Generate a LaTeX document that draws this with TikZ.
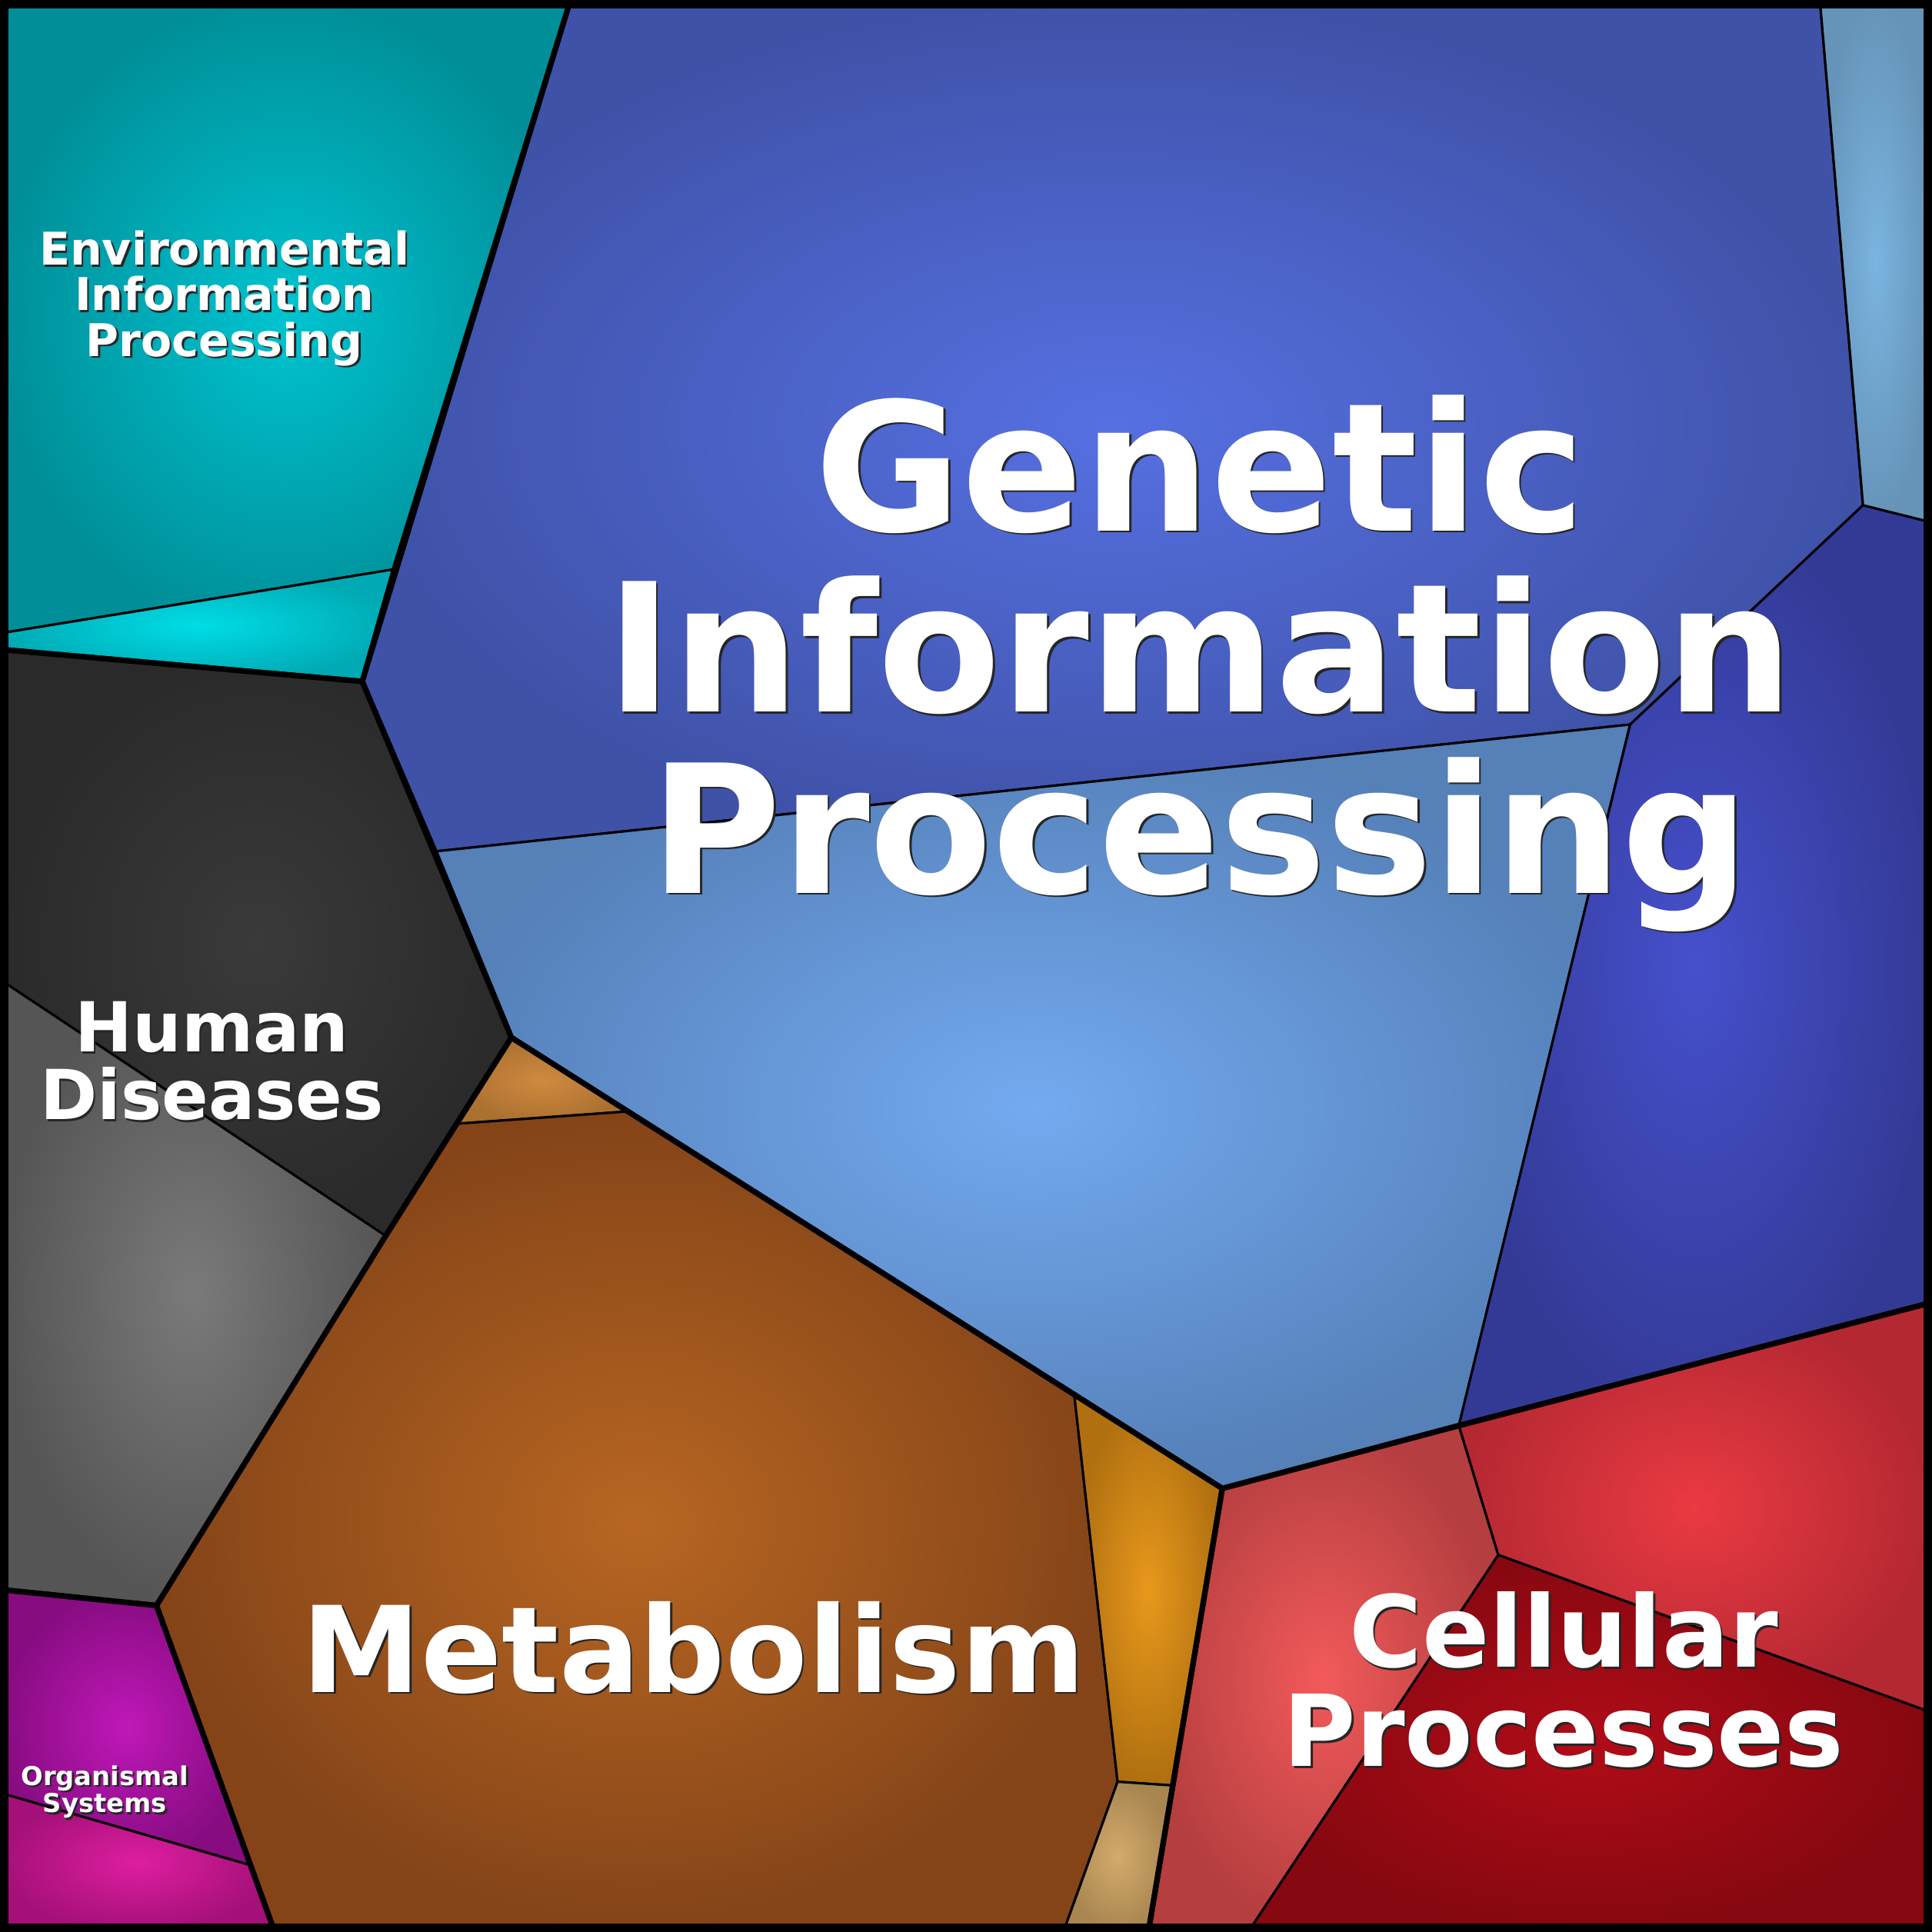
\documentclass[tikz,border=0pt]{standalone}
\usepackage{fontspec}
\setmainfont{DejaVu Sans}
\usetikzlibrary{calc}

% cell colours (inner / outer of the radial shading)
\definecolor{envAin}{HTML}{00C4D0}\definecolor{envAout}{HTML}{008F99}
\definecolor{envBin}{HTML}{00DDE6}\definecolor{envBout}{HTML}{00AAB4}
\definecolor{genAin}{HTML}{5670E2}\definecolor{genAout}{HTML}{3F52A8}
\definecolor{genBin}{HTML}{74AAF0}\definecolor{genBout}{HTML}{5580B8}
\definecolor{genCin}{HTML}{4650CC}\definecolor{genCout}{HTML}{333A96}
\definecolor{genDin}{HTML}{7AB4E0}\definecolor{genDout}{HTML}{6694B8}
\definecolor{humAin}{HTML}{3A3A3A}\definecolor{humAout}{HTML}{2A2A2A}
\definecolor{humBin}{HTML}{7A7A7A}\definecolor{humBout}{HTML}{555555}
\definecolor{metAin}{HTML}{B86622}\definecolor{metAout}{HTML}{844418}
\definecolor{metBin}{HTML}{D08A40}\definecolor{metBout}{HTML}{AA7030}
\definecolor{metCin}{HTML}{E8981C}\definecolor{metCout}{HTML}{B07010}
\definecolor{metDin}{HTML}{D4AA6C}\definecolor{metDout}{HTML}{A88650}
\definecolor{celAin}{HTML}{F25A5A}\definecolor{celAout}{HTML}{B53E40}
\definecolor{celBin}{HTML}{EA3A42}\definecolor{celBout}{HTML}{B42832}
\definecolor{celCin}{HTML}{B00C18}\definecolor{celCout}{HTML}{860810}
\definecolor{orgAin}{HTML}{C018B8}\definecolor{orgAout}{HTML}{860C80}
\definecolor{orgBin}{HTML}{DE1EA0}\definecolor{orgBout}{HTML}{A41078}

% white text with a thin dark shadow
\newcommand\shad[1]{\leavevmode\rlap{\kern0.45pt\raisebox{-0.45pt}{\color{black!85}#1}}#1}

\begin{document}
\begin{tikzpicture}[x=0.01cm,y=-0.01cm,
    cell/.style 2 args={draw=black,line width=0.55pt,line join=round,inner color=#1,outer color=#2},
    group/.style={draw=black,line width=1.25pt,line join=round},
    lbl/.style={text=white,font=\bfseries,align=center,inner sep=0pt}]
\useasboundingbox (0,0) rectangle (1568,1568);

% vertices
\coordinate (A) at (463,0);
\coordinate (B) at (320,462);
\coordinate (C) at (294,553);
\coordinate (D) at (0,514);
\coordinate (E) at (0,527);
\coordinate (F) at (1477,0);
\coordinate (G) at (1512,410);
\coordinate (H) at (1568,424);
\coordinate (I) at (1323,588);
\coordinate (J) at (353,691);
\coordinate (K) at (415,842);
\coordinate (L) at (992,1208);
\coordinate (M) at (1184,1157);
\coordinate (N) at (1568,1057);
\coordinate (O) at (0,795);
\coordinate (P) at (313,1003);
\coordinate (Q) at (127,1303);
\coordinate (R) at (0,1290);
\coordinate (S) at (510,902);
\coordinate (T) at (371,912);
\coordinate (U) at (872,1133);
\coordinate (V) at (907,1446);
\coordinate (W) at (951,1449);
\coordinate (X) at (932,1568);
\coordinate (Y) at (863,1568);
\coordinate (Z) at (223,1568);
\coordinate (Os) at (204,1514);
\coordinate (Ot) at (0,1455);
\coordinate (Ca) at (1216,1262);
\coordinate (Cb) at (1568,1390);
\coordinate (Cc) at (1013,1568);

% environmental information processing
\path[cell={envAin}{envAout}] (0,0) -- (A) -- (B) -- (D) -- cycle;
\path[cell={envBin}{envBout}] (D) -- (B) -- (C) -- (E) -- cycle;
% genetic information processing
\path[cell={genAin}{genAout}] (A) -- (F) -- (G) -- (I) -- (J) -- (C) -- (B) -- cycle;
\path[cell={genBin}{genBout}] (J) -- (I) -- (M) -- (L) -- (K) -- cycle;
\path[cell={genCin}{genCout}] (G) -- (H) -- (N) -- (M) -- (I) -- cycle;
\path[cell={genDin}{genDout}] (F) -- (1568,0) -- (H) -- (G) -- cycle;
% human diseases
\path[cell={humAin}{humAout}] (E) -- (C) -- (J) -- (K) -- (T) -- (P) -- (O) -- cycle;
\path[cell={humBin}{humBout}] (O) -- (P) -- (Q) -- (R) -- cycle;
% metabolism
\path[cell={metBin}{metBout}] (K) -- (S) -- (T) -- cycle;
\path[cell={metAin}{metAout}] (T) -- (S) -- (U) -- (V) -- (Y) -- (Z) -- (Q) -- (P) -- cycle;
\path[cell={metCin}{metCout}] (U) -- (L) -- (W) -- (V) -- cycle;
\path[cell={metDin}{metDout}] (V) -- (W) -- (X) -- (Y) -- cycle;
% cellular processes
\path[cell={celAin}{celAout}] (L) -- (M) -- (Ca) -- (Cc) -- (X) -- (W) -- cycle;
\path[cell={celBin}{celBout}] (M) -- (N) -- (Cb) -- (Ca) -- cycle;
\path[cell={celCin}{celCout}] (Ca) -- (Cb) -- (1568,1568) -- (Cc) -- cycle;
% organismal systems
\path[cell={orgAin}{orgAout}] (R) -- (Q) -- (Os) -- (Ot) -- cycle;
\path[cell={orgBin}{orgBout}] (Ot) -- (Os) -- (Z) -- (0,1568) -- cycle;

% category outlines
\draw[group] (0,0) -- (A) -- (B) -- (C) -- (E) -- cycle;
\draw[group] (A) -- (1568,0) -- (N) -- (M) -- (L) -- (K) -- (J) -- (C) -- cycle;
\draw[group] (E) -- (C) -- (K) -- (P) -- (Q) -- (R) -- cycle;
\draw[group] (K) -- (L) -- (X) -- (Z) -- (Q) -- (P) -- cycle;
\draw[group] (L) -- (M) -- (N) -- (1568,1568) -- (X) -- cycle;
\draw[group] (R) -- (Q) -- (Z) -- (0,1568) -- cycle;

% frame
\draw[line width=0.07cm] (3.5,3.5) rectangle (1564.5,1564.5);

% labels
\node[lbl,font=\bfseries\fontsize{10.4}{10.5}\selectfont] (env) at (182,243)
  {\shad{Environmental}\\\shad{Information}\\\shad{Processing}};
\node[lbl,font=\bfseries\fontsize{41.3}{41.8}\selectfont] (gen) at (974,539)
  {\shad{Genetic}\\\shad{Information}\\\shad{Processing}};
\node[lbl,font=\bfseries\fontsize{15.9}{15.6}\selectfont] (hum) at (172,862)
  {\shad{Human}\\\shad{Diseases}};
\node[lbl,font=\bfseries\fontsize{27.6}{27.6}\selectfont] (met) at (563,1338)
  {\shad{Metabolism}};
\node[lbl,font=\bfseries\fontsize{22.9}{22.9}\selectfont] (cel) at (1269,1364)
  {\shad{Cellular}\\\shad{Processes}};
\node[lbl,font=\bfseries\fontsize{6}{6.3}\selectfont] (org) at (85,1455)
  {\shad{Organismal}\\\shad{Systems}};
\end{tikzpicture}
\end{document}
